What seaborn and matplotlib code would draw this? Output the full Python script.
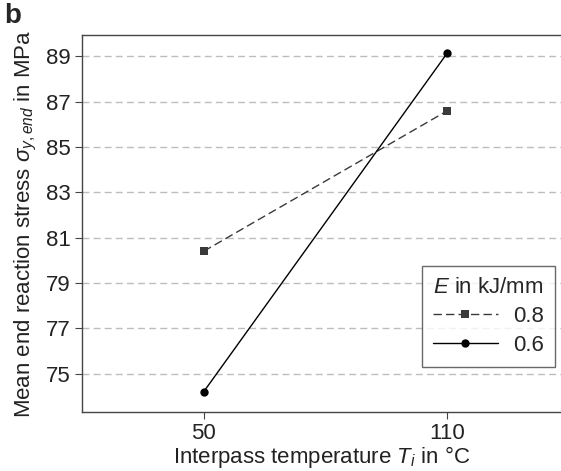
import pandas as pd
import matplotlib.pyplot as plt
import seaborn as sns

# data
temps = [50, 110]
energy = ['0.8', '0.6']
stress_08 = [80.4, 86.6]
stress_06 = [74.2, 89.15]
y_ticks = [75, 77, 79, 81, 83, 85, 87, 89]

df = pd.DataFrame({
    'T': temps * 2,
    'stress': stress_08 + stress_06,
    'E': [energy[0]] * 2 + [energy[1]] * 2,
})

sns.set_style('white')
plt.rcParams['font.family'] = ['Liberation Sans', 'DejaVu Sans']
plt.rcParams['mathtext.fontset'] = 'custom'
plt.rcParams['mathtext.rm'] = 'Liberation Sans'
plt.rcParams['mathtext.it'] = 'Liberation Sans:italic'

fig = plt.figure(figsize=(5.61, 4.71), dpi=100)
ax = fig.add_axes([0.146, 0.125, 0.854, 0.801])

sns.lineplot(data=df, x='T', y='stress', hue='E', style='E',
             palette={'0.8': '#3a3a3a', '0.6': 'black'},
             dashes={'0.8': (6, 3), '0.6': ''},
             markers={'0.8': 's', '0.6': 'o'},
             markersize=6, linewidth=1, markeredgewidth=0, ax=ax, zorder=3)

ax.set_xlim(20, 138)
ax.set_ylim(73.3, 89.95)
ax.set_xticks(temps)
ax.set_yticks(y_ticks)
ax.tick_params(axis='both', labelsize=16, colors='#444444', direction='out',
               length=5, width=0.8, pad=3, left=True, bottom=True)
for lab in ax.get_xticklabels() + ax.get_yticklabels():
    lab.set_color('#222222')
ax.yaxis.grid(True, color='#bdbdbd', linestyle=(0, (5, 3)), linewidth=1)
for sp in ax.spines.values():
    sp.set_color('#444444')
    sp.set_linewidth(1)
ax.spines['right'].set_visible(False)

ax.set_xlabel('Interpass temperature $T_i$ in °C', fontsize=16, color='#222222', labelpad=0)
ax.set_ylabel('Mean end reaction stress $\\sigma_{y,end}$ in MPa', fontsize=16,
              color='#222222', labelpad=5)

leg = ax.legend(title='$E$ in kJ/mm', loc='lower right', bbox_to_anchor=(0.988, 0.12),
                borderaxespad=0, fontsize=16, title_fontsize=16, frameon=True,
                fancybox=False, handlelength=2.9, borderpad=0.5, labelspacing=0.35,
                handletextpad=0.7)
leg.get_frame().set_edgecolor('#444444')
leg.get_frame().set_linewidth(1)

fig.text(0.008, 0.952, 'b', fontsize=20, fontweight='bold')

plt.savefig('out.png', dpi=100)
